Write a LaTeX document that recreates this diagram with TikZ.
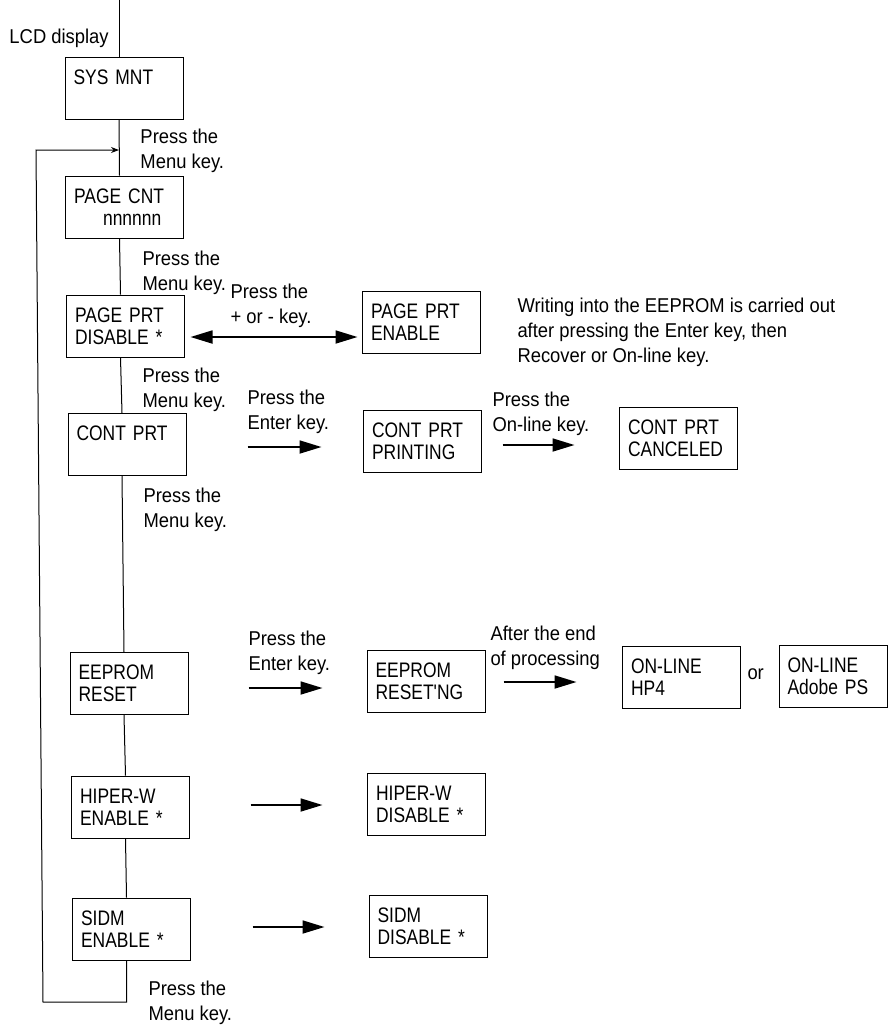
\documentclass[tikz,border=0pt]{standalone}
\usepackage{fontspec}
\setmainfont{Liberation Sans}[FakeStretch=0.92]
\newfontfamily\lcdfont{Liberation Sans}[FakeStretch=0.83]
\usetikzlibrary{arrows.meta}

\begin{document}
\begin{tikzpicture}[x=0.5pt, y=-0.5pt, line width=0.5pt,
    lcd/.style={shape=rectangle, draw=black, minimum width=59pt, minimum height=31pt,
        text width=50.4pt, inner xsep=4.3pt, align=left,
        font=\lcdfont\fontsize{10.5}{11}\selectfont},
    note/.style={anchor=north west, inner sep=0pt, align=left,
        font=\fontsize{10}{12.5}\selectfont},
    keyarrow/.style={line width=0.9pt, -{Triangle[length=11pt,width=6.5pt]}}]
    \useasboundingbox (0,0) rectangle (888,1025);

    % menu column
    \node[lcd] (SYS) at (124,88.5) {SYS MNT\\\mbox{}};
    \node[lcd] (CNT) at (124.5,207) {PAGE CNT\\\hspace*{14.5pt}nnnnnn};
    \node[lcd] (PRT) at (125.5,326) {PAGE PRT\\DISABLE *};
    \node[lcd] (CONT) at (127,444.5) {CONT PRT\\\mbox{}};
    \node[lcd] (EEP) at (129,683.5) {EEPROM\\RESET};
    \node[lcd] (HIPW) at (130.5,807) {HIPER-W\\ENABLE *};
    \node[lcd] (SIDM) at (131.5,929) {SIDM\\ENABLE *};

    % second and third columns
    \node[lcd] (PRTE) at (421.5,322.5) {PAGE PRT\\ENABLE};
    \node[lcd] (CONTP) at (422.5,441.5) {CONT PRT\\PRINTING};
    \node[lcd] (CANC) at (678.5,438.5) {CONT PRT\\CANCELED};
    \node[lcd] (EEPR) at (426,681) {EEPROM\\RESET'NG};
    \node[lcd] (HP) at (681.5,677.5) {ON-LINE\\HP4};
    \node[lcd, minimum width=54pt, text width=45.4pt] (PS) at (833,676) {ON-LINE\\Adobe PS};
    \node[lcd] (HIPWD) at (426.5,804) {HIPER-W\\DISABLE *};
    \node[lcd] (SIDMD) at (428,926.5) {SIDM\\DISABLE *};

    % texts
    \node[note] (lcdtxt) at (9,28) {LCD display};
    \node[note] (m1) at (140,128) {Press the\\Menu key.};
    \node[note] (m2) at (142,250) {Press the\\Menu key.};
    \node[note] (pm) at (230,283) {Press the\\+ or - key.};
    \node[note] (m3) at (142,367) {Press the\\Menu key.};
    \node[note] (ent1) at (247,389) {Press the\\Enter key.};
    \node[note] (onl) at (492,391) {Press the\\On-line key.};
    \node[note] (eep) at (517,297) {Writing into the EEPROM is carried out\\after pressing the Enter key, then\\Recover or On-line key.};
    \node[note] (m4) at (143,487) {Press the\\Menu key.};
    \node[note] (ent2) at (248,630) {Press the\\Enter key.};
    \node[note] (proc) at (490,625) {After the end\\of processing};
    \node[note] (or) at (747,668) {or};
    \node[note] (m5) at (148,980) {Press the\\Menu key.};

    % trunk
    \coordinate (top) at (119,0);
    \path [-](top) edge ([xshift=-2.5pt]SYS.north);
    \path [-]([xshift=-2.5pt]SYS.south) edge ([xshift=-2.5pt]CNT.north);
    \path [-]([xshift=-2.5pt]CNT.south) edge ([xshift=-2.5pt]PRT.north);
    \path [-]([xshift=-2.5pt]PRT.south) edge ([xshift=-2.5pt]CONT.north);
    \path [-]([xshift=-2.5pt]CONT.south) edge ([xshift=-2.5pt]EEP.north);
    \path [-]([xshift=-2.5pt]EEP.south) edge ([xshift=-2.5pt]HIPW.north);
    \path [-]([xshift=-2.5pt]HIPW.south) edge ([xshift=-2.5pt]SIDM.north);

    % back to the top of the menu
    \coordinate (back) at (43,1002);
    \coordinate (turn) at (36,150);
    \coordinate (entry) at (119,150);
    \draw[-{Stealth[length=4pt,width=3pt]}] ([xshift=-2.5pt]SIDM.south) |- (back) -- (turn) -- (entry);

    % key arrows
    \draw[line width=0.9pt, {Triangle[length=11pt,width=6.5pt]}-{Triangle[length=11pt,width=6.5pt]},
        shorten <=2.75pt, shorten >=2.25pt] ([yshift=-5.5pt]PRT.east) -- ([yshift=-7.25pt]PRTE.west);
    \draw[keyarrow, shorten <=30.5pt, shorten >=20.75pt] ([yshift=-1.25pt]CONT.east) -- ([yshift=-2.75pt]CONTP.west);
    \draw[keyarrow, shorten <=10.25pt, shorten >=22.25pt] ([yshift=-1.75pt]CONTP.east) -- ([yshift=-3.25pt]CANC.west);
    \draw[keyarrow, shorten <=30pt, shorten >=22pt] ([yshift=-2.25pt]EEP.east) -- ([yshift=-3.5pt]EEPR.west);
    \draw[keyarrow, shorten <=9pt, shorten >=22.75pt] ([yshift=-0.5pt]EEPR.east) -- ([yshift=-2.25pt]HP.west);
    \draw[keyarrow, shorten <=30.25pt, shorten >=22.25pt] ([yshift=1pt]HIPW.east) -- ([yshift=-0.5pt]HIPWD.west);
    \draw[keyarrow, shorten <=30.75pt, shorten >=22pt] ([yshift=1pt]SIDM.east) -- ([yshift=-0.25pt]SIDMD.west);
\end{tikzpicture}
\end{document}
